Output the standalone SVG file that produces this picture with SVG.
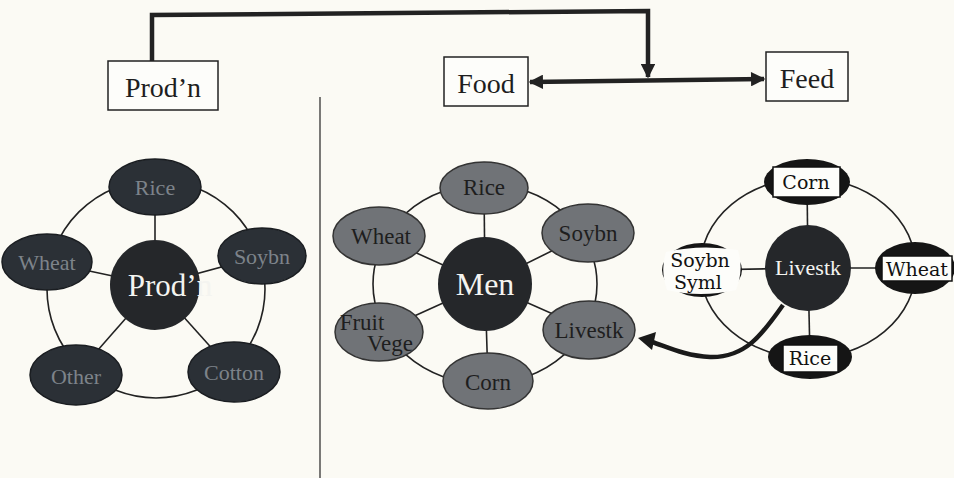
<svg xmlns="http://www.w3.org/2000/svg" width="954" height="478" viewBox="0 0 954 478">
<defs>
<style>
.bg{fill:#fbfaf4}
.box{fill:#fdfdfa;stroke:#222;stroke-width:1.5}
.lbl{font-family:"Liberation Serif",serif;fill:#1e1e1e;text-anchor:middle}
.thin{fill:none;stroke:#222;stroke-width:1.6}
.thick{fill:none;stroke:#222;stroke-width:4.5}
.dk{fill:#2b3036;stroke:#1a1d21;stroke-width:1.5}
.gr{fill:#707377;stroke:#333;stroke-width:1.5}
.ctr{fill:#25272a}
.blk{fill:#151515}
.wbox{fill:#fdfdfa;stroke:#111;stroke-width:1.5}
.dtxt{font-family:"Liberation Serif",serif;fill:#7d838a;text-anchor:middle;font-size:22px}
.mtxt{font-family:"Liberation Serif",serif;fill:#1e1e1e;text-anchor:middle;font-size:23px}
.wtxt{font-family:"Liberation Serif",serif;fill:#f4f4f0;text-anchor:middle}
.rtxt{font-family:"DejaVu Serif",serif;fill:#111;text-anchor:middle;font-size:19px}
</style>
<marker id="ah" viewBox="0 0 10 10" refX="9" refY="5" markerWidth="3.6" markerHeight="3.2" orient="auto-start-reverse" markerUnits="strokeWidth">
<path d="M0,0 L10,5 L0,10 z" fill="#222"/>
</marker>
</defs>
<rect class="bg" x="0" y="0" width="954" height="478"/>

<g id="connectors">
<path class="thick" d="M152,62 L152,15 L648,11 L648,77" marker-end="url(#ah)"/>
<path class="thick" d="M530,82 L764,79" marker-start="url(#ah)" marker-end="url(#ah)"/>
<line x1="320" y1="97" x2="320" y2="478" stroke="#333" stroke-width="1.3"/>
<circle class="thin" cx="156" cy="289" r="109"/>
<line class="thin" x1="155" y1="285" x2="155" y2="187"/>
<line class="thin" x1="155" y1="285" x2="47" y2="262"/>
<line class="thin" x1="155" y1="285" x2="262" y2="256"/>
<line class="thin" x1="155" y1="285" x2="76" y2="375"/>
<line class="thin" x1="155" y1="285" x2="234" y2="373"/>
<ellipse class="thin" cx="485" cy="284" rx="112" ry="100"/>
<line class="thin" x1="485" y1="284" x2="484" y2="188"/>
<line class="thin" x1="485" y1="284" x2="379" y2="236"/>
<line class="thin" x1="485" y1="284" x2="588" y2="233"/>
<line class="thin" x1="485" y1="284" x2="379" y2="332"/>
<line class="thin" x1="485" y1="284" x2="589" y2="330"/>
<line class="thin" x1="485" y1="284" x2="488" y2="381"/>
<ellipse class="thin" cx="808" cy="268" rx="108" ry="90"/>
<line class="thin" x1="808" y1="268" x2="807" y2="182"/>
<line class="thin" x1="808" y1="268" x2="915" y2="268"/>
<line class="thin" x1="808" y1="268" x2="810" y2="357"/>
<line class="thin" x1="808" y1="268" x2="702" y2="270"/>
</g>

<g id="box-prodn"><rect class="box" x="108" y="61" width="110" height="49"/><text class="lbl" x="163" y="97" font-size="28">Prod’n</text></g>
<g id="box-food"><rect class="box" x="444" y="57" width="84" height="49"/><text class="lbl" x="486" y="93" font-size="28">Food</text></g>
<g id="box-feed"><rect class="box" x="766" y="52" width="82" height="49"/><text class="lbl" x="807" y="88" font-size="28">Feed</text></g>

<g id="p-rice"><ellipse class="dk" cx="155" cy="187" rx="46" ry="28"/><text class="dtxt" x="155" y="195">Rice</text></g>
<g id="p-wheat"><ellipse class="dk" cx="47" cy="262" rx="45" ry="28"/><text class="dtxt" x="47" y="270">Wheat</text></g>
<g id="p-soybn"><ellipse class="dk" cx="262" cy="256" rx="44" ry="28"/><text class="dtxt" x="262" y="264">Soybn</text></g>
<g id="p-other"><ellipse class="dk" cx="76" cy="375" rx="46" ry="30"/><text class="dtxt" x="76" y="384" font-size="25">Other</text></g>
<g id="p-cotton"><ellipse class="dk" cx="234" cy="372" rx="46" ry="30"/><text class="dtxt" x="234" y="380">Cotton</text></g>
<g id="p-center"><circle class="ctr" cx="155" cy="285" r="45"/><text class="wtxt" x="170" y="296" font-size="31">Prod’n</text></g>

<g id="m-rice"><ellipse class="gr" cx="484" cy="188" rx="44" ry="26"/><text class="mtxt" x="484" y="195">Rice</text></g>
<g id="m-wheat"><ellipse class="gr" cx="379" cy="236" rx="46" ry="29"/><text class="mtxt" x="381" y="244">Wheat</text></g>
<g id="m-soybn"><ellipse class="gr" cx="588" cy="233" rx="46" ry="29"/><text class="mtxt" x="588" y="241">Soybn</text></g>
<g id="m-fruit"><ellipse class="gr" cx="379" cy="332" rx="44" ry="29"/><text class="mtxt" x="362" y="330" font-size="15">Fruit</text><text class="mtxt" x="390" y="351" font-size="15">Vege</text></g>
<g id="m-livestk"><ellipse class="gr" cx="589" cy="330" rx="46" ry="29"/><text class="mtxt" x="589" y="338">Livestk</text></g>
<g id="m-corn"><ellipse class="gr" cx="488" cy="381" rx="45" ry="28"/><text class="mtxt" x="488" y="390" font-size="26">Corn</text></g>
<g id="m-men"><circle class="ctr" cx="485" cy="284" r="47"/><text class="wtxt" x="485" y="295" font-size="32">Men</text></g>

<g id="r-corn"><ellipse class="blk" cx="807" cy="182" rx="43" ry="23"/><rect class="wbox" x="773" y="167" width="67" height="30"/><text class="rtxt" x="806" y="189" font-size="21">Corn</text></g>
<g id="r-wheat"><ellipse class="blk" cx="915" cy="268" rx="40" ry="26"/><rect class="wbox" x="882" y="256" width="70" height="25"/><text class="rtxt" x="917" y="276">Wheat</text></g>
<g id="r-rice"><ellipse class="blk" cx="810" cy="357" rx="42" ry="22"/><rect class="wbox" x="783" y="345" width="55" height="27"/><text class="rtxt" x="810" y="365">Rice</text></g>
<g id="r-soybn"><ellipse class="blk" cx="702" cy="270" rx="40" ry="27"/><path d="M666,252 Q700,244 738,250 Q744,270 736,290 Q700,298 667,290 Q660,270 666,252 z" fill="#fdfdfa"/><text class="rtxt" x="700" y="267">Soybn</text><text class="rtxt" x="698" y="289">Syml</text></g>
<g id="r-livestk"><circle class="ctr" cx="808" cy="268" r="43"/><text class="wtxt" x="808" y="275" font-size="22" fill="#c9ccd0">Livestk</text></g>

<g id="feed-arrow">
<path d="M783,305 C762,335 745,358 710,357 C685,356 665,346 652,342" fill="none" stroke="#1a1a1a" stroke-width="4.5"/>
<path d="M638,338 L656,332 L652,350 z" fill="#1a1a1a"/>
</g>
</svg>
